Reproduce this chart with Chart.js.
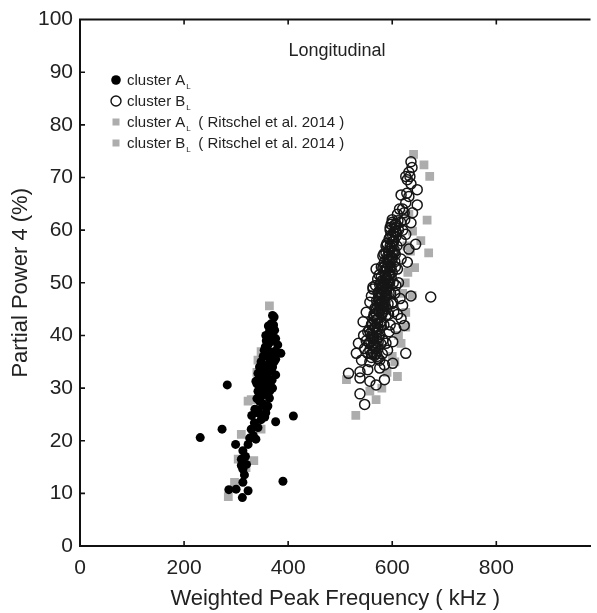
<!DOCTYPE html>
<html>
<head>
<meta charset="utf-8">
<script src="https://cdn.jsdelivr.net/npm/chart.js@4.4.1/dist/chart.umd.min.js"></script>
<style>
  html, body { margin: 0; padding: 0; background: #fff; }
  #wrap { width: 597px; height: 613px; position: relative; }
</style>
</head>
<body>
<div id="wrap"><canvas id="chart"></canvas></div>
<script>
// tick values
var xTicks = [0, 200, 400, 600, 800];
var yTicks = [0, 10, 20, 30, 40, 50, 60, 70, 80, 90, 100];

// cluster A_L (filled circles)
var clusterA_x = [231, 283, 273, 299, 376, 410, 390,
    286, 300, 313, 323, 312,
    313, 310, 310, 313, 323, 338, 329, 342, 335, 342, 357, 342, 361, 345, 364, 354, 361, 342,
    370, 351, 338, 361, 376, 342, 351, 348, 373, 364, 354, 361, 380, 386, 376, 357, 364, 367, 373, 370,
    345, 355, 365, 350, 358, 368, 345, 355, 362, 370, 352, 360, 368, 375, 358, 366, 370, 362, 372,
    350, 357, 365, 340, 352, 348, 355, 333, 318, 320, 326, 346, 372, 362, 369, 376,
    336, 344, 356, 366, 374, 348, 358, 340, 330, 316];
var clusterA_y = [20.6, 30.6, 22.2, 19.3, 23.6, 24.7, 12.3,
    10.7, 10.8, 12.1, 10.5, 9.2,
    14.6, 15.3, 16.5, 18.1, 19.3, 20.3, 22.2, 22.5, 23.4, 25.3, 25.3, 25.9, 26.6, 27.5, 28.1, 28.8, 28.8, 29.4,
    30.0, 30.3, 31.3, 31.9, 32.5, 32.8, 33.5, 35.0, 35.0, 35.6, 37.2, 38.2, 38.2, 36.6, 39.4, 40.0, 40.7, 42.2, 43.5, 43.8,
    30.5, 31.0, 31.2, 32.0, 33.0, 33.2, 34.0, 34.2, 34.5, 34.0, 36.0, 36.5, 36.8, 37.0, 39.0, 38.8, 40.5, 41.8, 42.0,
    29.0, 29.8, 29.5, 28.0, 27.0, 24.0, 24.5, 21.0, 17.0, 15.5, 20.5, 30.0, 36.0, 33.8, 31.5, 35.5,
    26.0, 31.8, 37.8, 39.8, 41.0, 28.5, 26.2, 30.8, 24.8, 13.5];

// cluster B_L (open circles)
var clusterB_x = [638, 634, 626, 629, 636, 648, 617, 632, 626, 648, 623, 639, 607, 636, 598, 607, 626, 594, 617, 645,
    632, 588, 604, 582, 594, 617, 629, 569, 588, 610, 572, 594, 563, 582, 607,
    674, 636, 620, 563, 588, 557, 576, 601, 550, 544, 563, 588, 617, 623, 607, 553, 572, 594, 563, 582,
    601, 535, 547, 531, 569, 591, 626, 541, 557, 576, 585, 601, 516, 538, 553, 576, 538, 557, 569, 585, 538, 547,
    565, 570, 575, 580, 585, 590, 595, 598, 600, 603, 570, 575, 580, 585, 590, 595, 600, 605, 560, 567,
    578, 583, 592, 597, 602, 606, 573, 578, 586, 591, 596, 601, 605, 610, 614, 612, 609, 556, 562, 574,
    580, 587, 593, 599, 603, 566, 571, 581, 588, 560, 550, 545, 596, 605, 612, 615, 610, 579, 584, 590,
    596, 600, 620, 624, 628, 632, 636, 620, 616, 560, 568, 575,
    600, 606, 611, 603, 595, 601, 607, 590, 598, 604, 588, 594, 600, 585, 592, 598, 606,
    582, 588, 594, 579, 586, 591, 598, 576, 583, 589, 573, 580, 586, 594,
    570, 576, 583, 567, 574, 580, 589, 565, 571, 578, 561, 568, 575, 584,
    558, 564, 571, 556, 562, 569, 578, 553, 560, 566, 573,
    597, 603, 593, 600, 608, 596, 590, 596, 584, 590, 596, 587,
    580, 585, 591, 578, 584, 590, 574, 579, 586, 571, 577, 583, 569,
    566, 572, 579, 563, 570, 576, 560, 559, 565, 573, 557, 563, 570];
var clusterB_y = [71.9, 70.2, 70.2, 69.6, 68.8, 67.7, 66.7, 66.4, 65.2, 64.8, 63.3, 63.3, 61.1, 61.4, 61.1, 59.8, 59.2, 58.3, 58.0, 57.3,
    56.4, 57.0, 55.7, 55.1, 54.2, 54.5, 53.9, 52.6, 52.6, 52.6, 50.7, 51.4, 49.2, 49.5, 49.5,
    47.3, 47.5, 45.7, 48.8, 47.6, 46.3, 45.7, 46.3, 44.4, 42.6, 43.2, 43.8, 43.2, 41.9, 41.3, 40.7, 41.3, 40.7, 39.4, 39.1,
    38.8, 38.5, 37.5, 36.6, 37.5, 37.2, 36.6, 35.3, 35.0, 35.3, 34.4, 34.7, 32.8, 33.1, 33.5, 33.8, 31.9, 31.3, 30.6, 31.6, 28.9, 26.9,
    44.0, 45.0, 47.0, 48.0, 50.0, 51.0, 53.0, 55.0, 57.0, 58.0, 43.0, 44.5, 46.0, 47.0, 49.0, 50.0, 52.0, 54.0, 42.0, 41.5,
    42.5, 45.0, 46.0, 48.0, 50.0, 53.0, 48.0, 50.0, 52.0, 55.0, 57.0, 59.0, 61.0, 63.0, 64.0, 60.0, 57.0, 41.0, 40.0, 39.8,
    44.0, 45.5, 44.0, 46.0, 44.5, 38.0, 36.0, 36.5, 38.5, 36.5, 39.0, 40.0, 42.0, 48.0, 50.0, 47.0, 44.0, 53.0, 55.5, 57.5,
    60.0, 62.0, 60.0, 62.0, 67.0, 71.0, 73.0, 64.0, 61.5, 47.5, 49.5, 51.5,
    61.5, 60.5, 61.8, 59.6, 58.5, 57.8, 58.8, 57.2, 56.6, 56.2, 55.6, 55.2, 54.6, 54.0, 53.6, 53.0, 55.4,
    52.8, 52.2, 51.6, 51.2, 50.6, 50.2, 51.0, 49.6, 49.0, 48.6, 48.2, 47.6, 47.2, 48.0,
    46.6, 46.0, 45.6, 45.2, 44.6, 44.2, 45.0, 43.6, 43.0, 42.6, 42.2, 41.6, 41.2, 42.0,
    40.4, 39.8, 39.4, 38.6, 38.0, 37.8, 38.4, 36.6, 35.8, 36.2, 35.6,
    59.0, 58.0, 56.0, 55.8, 59.5, 60.5, 54.4, 54.0, 53.0, 52.8, 52.4, 51.5,
    50.4, 49.8, 49.4, 48.8, 48.4, 47.8, 47.2, 46.4, 46.4, 45.8, 45.2, 44.6, 44.2,
    42.8, 42.2, 41.8, 41.0, 40.6, 40.2, 39.6, 38.8, 38.6, 38.8, 37.2, 36.8, 36.6];

// Ritschel et al. 2014, cluster A_L (grey squares)
var ritschelA_x = [364, 342, 348, 329, 323, 310, 348, 304, 334, 297, 285, 319, 355, 360, 340];
var ritschelA_y = [45.6, 35.3, 36.9, 27.8, 27.5, 21.2, 22.2, 16.5, 16.2, 12.1, 9.4, 14.9, 31.0, 38.0, 33.0];

// Ritschel et al. 2014, cluster B_L (grey squares)
var ritschelB_x = [641, 661, 672, 667, 655, 670, 643, 639, 626, 617, 610, 569, 557, 530, 512,
    612, 605, 620, 630, 635, 625, 600, 590, 580, 632, 628, 638, 626];
var ritschelB_y = [74.4, 72.4, 70.2, 61.9, 58.0, 55.7, 52.9, 59.8, 44.4, 38.5, 32.2, 27.8, 29.4, 24.8, 31.6,
    40.0, 35.0, 48.0, 52.0, 56.0, 50.0, 36.0, 33.0, 30.0, 63.0, 57.0, 47.6, 41.6];

function toPoints(xs, ys) {
    return xs.map(function (x, i) { return { x: x, y: ys[i] }; });
}

var FONT = '"Liberation Sans", Arial, sans-serif';
var GREY = '#adadad';

// axis frame: top line plus inward tick marks
var framePlugin = {
    id: 'frame',
    afterDraw: function (chart) {
        var ctx = chart.ctx, a = chart.chartArea;
        var xs = chart.scales.x, ys = chart.scales.y;
        ctx.save();
        ctx.strokeStyle = '#111';
        ctx.lineWidth = 2;
        ctx.beginPath();
        ctx.moveTo(a.left - 1, a.top);
        ctx.lineTo(a.right, a.top);
        ctx.stroke();
        ctx.lineWidth = 1.6;
        ctx.beginPath();
        xTicks.forEach(function (v) {
            if (v === 0) return;
            var px = xs.getPixelForValue(v);
            ctx.moveTo(px, a.bottom);
            ctx.lineTo(px, a.bottom - 5);
            ctx.moveTo(px, a.top);
            ctx.lineTo(px, a.top + 5);
        });
        yTicks.forEach(function (v) {
            if (v === 0 || v === 100) return;
            var py = ys.getPixelForValue(v);
            ctx.moveTo(a.left, py);
            ctx.lineTo(a.left + 5, py);
        });
        ctx.stroke();
        ctx.restore();
    }
};

// title + legend drawn inside the plot
var legendPlugin = {
    id: 'innerLegend',
    afterDraw: function (chart) {
        var ctx = chart.ctx;
        ctx.save();
        ctx.fillStyle = '#222';
        ctx.textBaseline = 'middle';
        ctx.textAlign = 'center';
        ctx.font = '18px ' + FONT;
        ctx.fillText('Longitudinal', 337, 51);

        var rows = [
            { y: 80, kind: 'filled', letter: 'A', extra: '' },
            { y: 101, kind: 'open', letter: 'B', extra: '' },
            { y: 122, kind: 'square', letter: 'A', extra: '( Ritschel et al. 2014 )' },
            { y: 143, kind: 'square', letter: 'B', extra: '( Ritschel et al. 2014 )' }
        ];
        rows.forEach(function (r) {
            var mx = 116;
            if (r.kind === 'filled') {
                ctx.fillStyle = '#000';
                ctx.beginPath(); ctx.arc(mx, r.y, 4.8, 0, Math.PI * 2); ctx.fill();
            } else if (r.kind === 'open') {
                ctx.strokeStyle = '#111'; ctx.lineWidth = 1.4;
                ctx.beginPath(); ctx.arc(mx, r.y, 5, 0, Math.PI * 2); ctx.stroke();
            } else {
                ctx.fillStyle = GREY;
                ctx.fillRect(mx - 3.5, r.y - 3.5, 7, 7);
            }
            ctx.fillStyle = '#222';
            ctx.textAlign = 'left';
            ctx.font = '15px ' + FONT;
            var label = 'cluster ' + r.letter;
            ctx.fillText(label, 127, r.y + 1);
            var w = ctx.measureText(label).width;
            ctx.font = '8px ' + FONT;
            ctx.fillText('L', 127 + w + 1, r.y + 7);
            if (r.extra) {
                ctx.font = '15px ' + FONT;
                ctx.fillText(r.extra, 127 + w + 13, r.y + 1);
            }
        });
        ctx.restore();
    }
};

var ctx = document.getElementById('chart').getContext('2d');
var chart = new Chart(ctx, {
    type: 'scatter',
    data: {
        datasets: [
            {
                label: 'cluster A',
                data: toPoints(clusterA_x, clusterA_y),
                pointStyle: 'circle',
                pointRadius: 4.5,
                backgroundColor: '#000',
                borderColor: '#000',
                borderWidth: 0,
                order: 0
            },
            {
                label: 'cluster B',
                data: toPoints(clusterB_x, clusterB_y),
                pointStyle: 'circle',
                pointRadius: 5,
                backgroundColor: 'rgba(0,0,0,0)',
                borderColor: '#161616',
                borderWidth: 1.5,
                order: 1
            },
            {
                label: 'cluster A (Ritschel et al. 2014)',
                data: toPoints(ritschelA_x, ritschelA_y),
                pointStyle: 'rect',
                pointRadius: 6.2,
                backgroundColor: GREY,
                borderWidth: 0,
                order: 2
            },
            {
                label: 'cluster B (Ritschel et al. 2014)',
                data: toPoints(ritschelB_x, ritschelB_y),
                pointStyle: 'rect',
                pointRadius: 6.2,
                backgroundColor: GREY,
                borderWidth: 0,
                order: 3
            }
        ]
    },
    options: {
        responsive: true,
        maintainAspectRatio: false,
        animation: false,
        events: [],
        layout: { padding: { top: 15, left: 0, right: 0, bottom: 0 } },
        plugins: {
            legend: { display: false },
            tooltip: { enabled: false }
        },
        scales: {
            x: {
                type: 'linear',
                min: 0,
                max: 981,
                afterBuildTicks: function (scale) {
                    scale.ticks = xTicks.map(function (v) { return { value: v }; });
                },
                afterFit: function (scale) { scale.height = 67; },
                grid: { display: false, drawTicks: false },
                border: { display: true, color: '#111', width: 2 },
                ticks: {
                    autoSkip: false,
                    maxRotation: 0,
                    padding: 10,
                    color: '#222',
                    font: { family: FONT, size: 21 }
                },
                title: {
                    display: true,
                    text: 'Weighted Peak Frequency ( kHz )',
                    color: '#222',
                    font: { family: FONT, size: 22 },
                    padding: { top: 0, bottom: 1 }
                }
            },
            y: {
                type: 'linear',
                min: 0,
                max: 100,
                afterBuildTicks: function (scale) {
                    scale.ticks = yTicks.map(function (v) { return { value: v }; });
                },
                afterFit: function (scale) { scale.width = 80; },
                grid: { display: false, drawTicks: false },
                border: { display: true, color: '#111', width: 2 },
                ticks: {
                    padding: 7,
                    color: '#222',
                    font: { family: FONT, size: 21 }
                },
                title: {
                    display: true,
                    text: 'Partial Power 4 (%)',
                    color: '#222',
                    font: { family: FONT, size: 22 },
                    padding: { top: 8, bottom: 0 }
                }
            }
        }
    },
    plugins: [framePlugin, legendPlugin]
});
</script>
</body>
</html>
